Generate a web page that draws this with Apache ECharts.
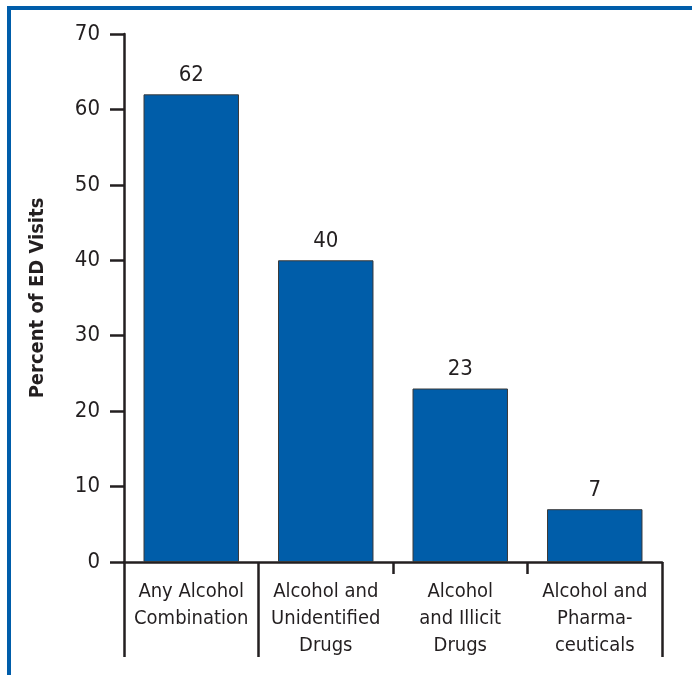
<!DOCTYPE html>
<html>
<head>
<meta charset="utf-8">
<script src="https://cdn.jsdelivr.net/npm/echarts@6/dist/echarts.min.js"></script>
<style>
  html, body { margin: 0; padding: 0; background: #fff; }
  #chart { position: absolute; left: 0; top: 0; width: 692px; height: 675px; }
  #frame { position: absolute; left: 7px; top: 6px; right: 0; bottom: 0;
           border-top: 4px solid #005DAA; border-left: 4px solid #005DAA; pointer-events: none; }
</style>
</head>
<body>
<div id="chart"></div>
<div id="frame"></div>
<script>
const categories = [
  'Any Alcohol\nCombination',
  'Alcohol and\nUnidentified\nDrugs',
  'Alcohol\nand Illicit\nDrugs',
  'Alcohol and\nPharma-\nceuticals'
];
const values = [62, 40, 23, 7];
const yTicks = { min: 0, max: 70, interval: 10 };
const yAxisTitle = 'Percent of ED Visits';

const FONT = '"Liberation Sans Narrow", "DejaVu Sans Condensed", "Liberation Sans", Arial, sans-serif';
const INK = '#231f20';

const chart = echarts.init(document.getElementById('chart'));
chart.setOption({
  animation: false,
  grid: { left: 124, right: 30, top: 34, bottom: 113, containLabel: false },
  xAxis: [
    {
      type: 'category',
      data: categories,
      position: 'bottom',
      axisLine: { show: true, lineStyle: { color: INK, width: 2.5 } },
      axisTick: { show: true, length: 12, lineStyle: { color: INK, width: 2.5 } },
      axisLabel: {
        color: INK, fontFamily: FONT, fontSize: 20, lineHeight: 27,
        margin: 16, interval: 0
      },
      splitLine: { show: false }
    },
    {
      type: 'category',
      data: categories,
      position: 'bottom',
      axisLine: { show: false },
      axisTick: {
        show: true, length: 95,
        interval: function (index) { return index <= 1; },
        lineStyle: { color: INK, width: 2.5 }
      },
      axisLabel: { show: false },
      splitLine: { show: false }
    }
  ],
  yAxis: {
    type: 'value',
    min: yTicks.min, max: yTicks.max, interval: yTicks.interval,
    name: yAxisTitle,
    nameLocation: 'middle',
    nameGap: 76,
    nameRotate: 90,
    nameTextStyle: { color: INK, fontFamily: FONT, fontSize: 20, fontWeight: 'bold' },
    axisLine: { show: true, lineStyle: { color: INK, width: 2.5 } },
    axisTick: { show: true, length: 14, lineStyle: { color: INK, width: 2.5 } },
    axisLabel: { color: INK, fontFamily: FONT, fontSize: 22, margin: 24 },
    splitLine: { show: false }
  },
  series: [{
    type: 'bar',
    data: values,
    xAxisIndex: 0,
    barCategoryGap: '29%',
    itemStyle: { color: '#005DA9', borderColor: '#3a3a3a', borderWidth: 1 },
    label: {
      show: true, position: 'top', distance: 8,
      color: INK, fontFamily: FONT, fontSize: 22
    }
  }]
});
</script>
</body>
</html>
